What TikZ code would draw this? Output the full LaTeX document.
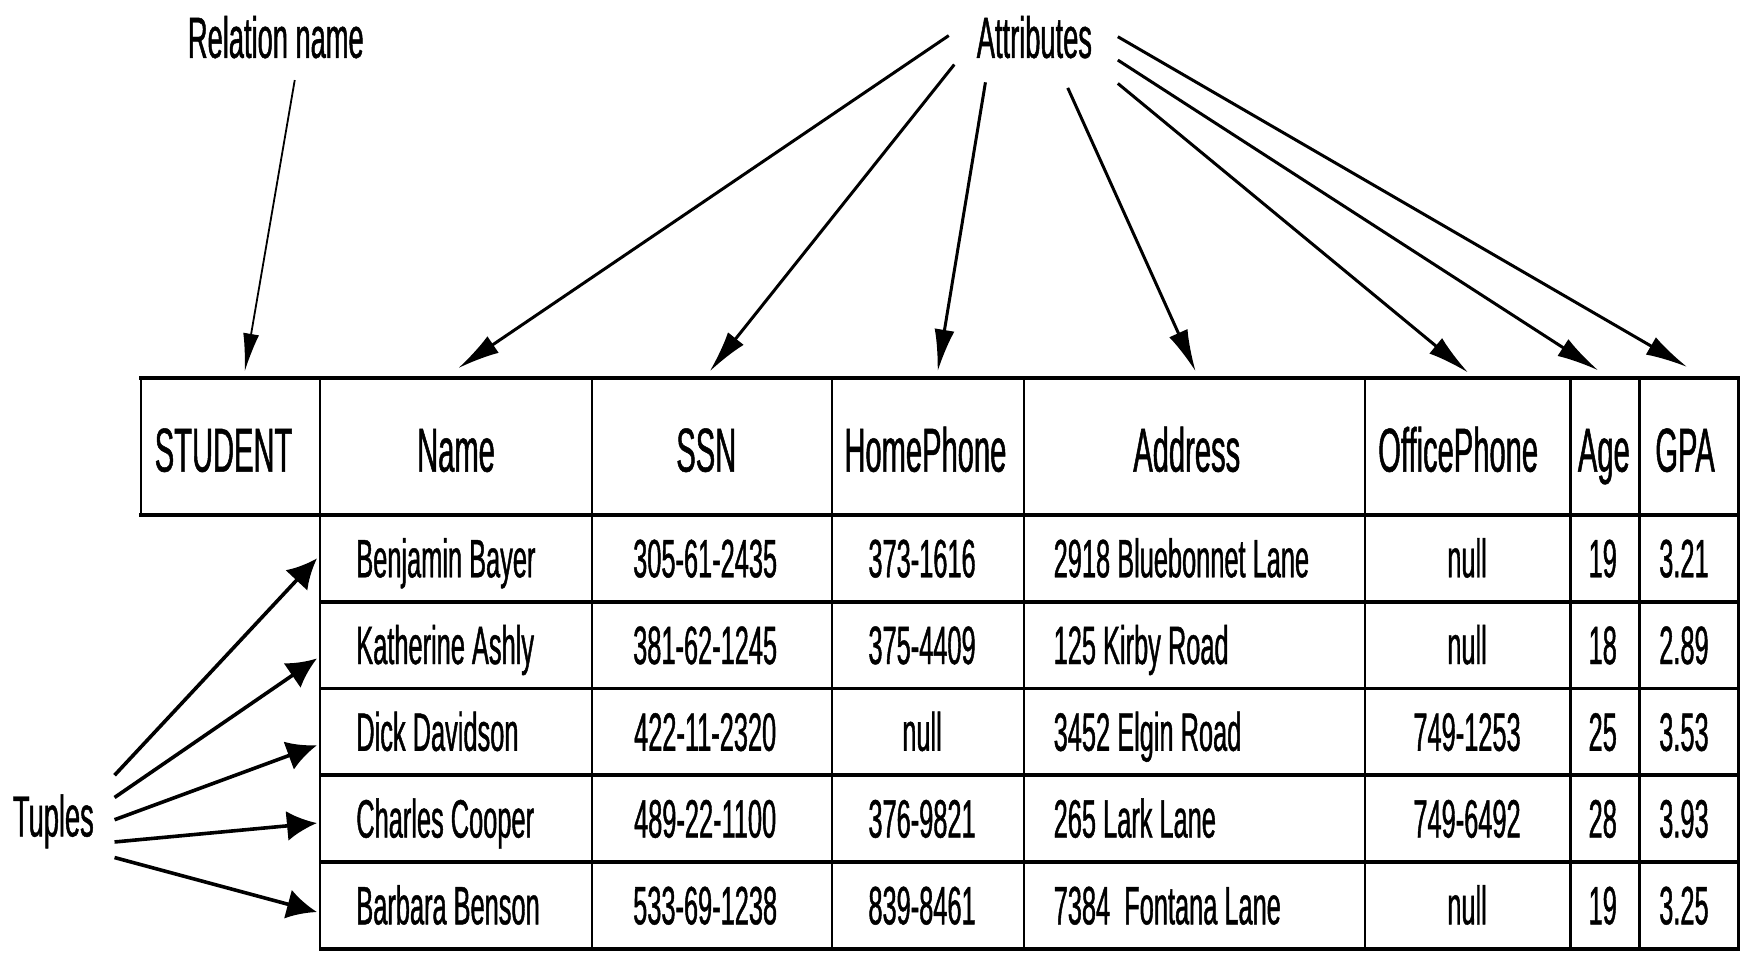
\documentclass[tikz,border=0pt]{standalone}
\usepackage{fontspec}
\usetikzlibrary{arrows.meta}
\newfontfamily\cond{Liberation Sans}[FakeStretch=0.47,FakeBold=0.8]
\begin{document}
\begin{tikzpicture}[x=0.5561pt,y=-0.5561pt,
  hl/.style={line width=1.8pt,line cap=rect},
  vl/.style={line width=1.1pt},
  relarrow/.style={line width=0.9pt,-{Latex[length=19pt,width=8pt]}},
  attarrow/.style={line width=1.5pt,-{Latex[length=21pt,width=10pt]}},
  tuparrow/.style={line width=1.8pt,-{Latex[length=15pt,width=15pt]}},
  lbl/.style={font=\cond\fontsize{29}{29}\selectfont,inner sep=0,anchor=base},
  hd/.style={font=\cond\fontsize{31}{31}\selectfont,inner sep=0,anchor=base},
  dt/.style={font=\cond\fontsize{27}{27}\selectfont,inner sep=0,anchor=base},
  dtl/.style={dt,anchor=base west}]
\useasboundingbox (0,0) rectangle (1568,856);
% vertical lines
\draw[vl] (127,340) -- (127,463);
\foreach \x in {288,532,748,921,1227,1412,1474,1563}
  \draw[vl] (\x,340) -- (\x,853);
% horizontal lines
\draw[hl] (127,340) -- (1563,340);
\draw[hl] (127,463) -- (1563,463);
\foreach \y in {541,619,697,775,853}
  \draw[hl] (288,\y) -- (1563,\y);
% labels
\node[lbl] (relname) at (248,52) {Relation name};
\node[lbl] (attrs) at (930,52) {Attributes};
\node[lbl] (tuples) at (48,752) {Tuples};
% header
\node[hd] (hstudent) at (201,424) {STUDENT};
\node[hd] (hname) at (410,424) {Name};
\node[hd] (hssn) at (635,424) {SSN};
\node[hd] (hhome) at (832,424) {HomePhone};
\node[hd] (haddr) at (1067,424) {Address};
\node[hd] (hoffice) at (1311,424) {OfficePhone};
\node[hd] (hage) at (1442,424) {Age};
\node[hd] (hgpa) at (1515,424) {GPA};
% data rows
\foreach \i/\nm/\ssn/\hp/\ad/\op/\ag/\gp in {
  1/Benjamin Bayer/305-61-2435/373-1616/2918 Bluebonnet Lane/null/19/3.21,
  2/Katherine Ashly/381-62-1245/375-4409/125 Kirby Road/null/18/2.89,
  3/Dick Davidson/422-11-2320/null/3452 Elgin Road/749-1253/25/3.53,
  4/Charles Cooper/489-22-1100/376-9821/265 Lark Lane/749-6492/28/3.93,
  5/Barbara Benson/533-69-1238/839-8461/7384\ \ Fontana Lane/null/19/3.25}{
  \pgfmathsetmacro\yb{441+78*\i}
  \node[dtl] (n\i) at (320,\yb) {\nm};
  \node[dt] (s\i) at (634,\yb) {\ssn};
  \node[dt] (p\i) at (829,\yb) {\hp};
  \node[dtl] (a\i) at (947,\yb) {\ad};
  \node[dt] (o\i) at (1319,\yb) {\op};
  \node[dt] (g\i) at (1441,\yb) {\ag};
  \node[dt] (v\i) at (1514,\yb) {\gp};
}
% arrow coordinates
\coordinate (rs) at (265,72);   \coordinate (rt) at (220,334);
\coordinate (as1) at (853,32);  \coordinate (at1) at (412,331);
\coordinate (as2) at (858,58);  \coordinate (at2) at (638,334);
\coordinate (as3) at (886,74);  \coordinate (at3) at (843,334);
\coordinate (as4) at (960,79);  \coordinate (at4) at (1075,334);
\coordinate (as5) at (1005,75); \coordinate (at5) at (1320,335);
\coordinate (as6) at (1005,54); \coordinate (at6) at (1437,333);
\coordinate (as7) at (1005,33); \coordinate (at7) at (1517,330);
\coordinate (ts1) at (103,697); \coordinate (tt1) at (285,502);
\coordinate (ts2) at (103,717); \coordinate (tt2) at (285,592);
\coordinate (ts3) at (103,737); \coordinate (tt3) at (285,670);
\coordinate (ts4) at (103,757); \coordinate (tt4) at (285,740);
\coordinate (ts5) at (103,771); \coordinate (tt5) at (285,820);
\draw[relarrow] (rs) -- (rt);
\foreach \k in {1,...,7} \draw[attarrow] (as\k) -- (at\k);
\foreach \k in {1,...,5} \draw[tuparrow] (ts\k) -- (tt\k);
\end{tikzpicture}
\end{document}
